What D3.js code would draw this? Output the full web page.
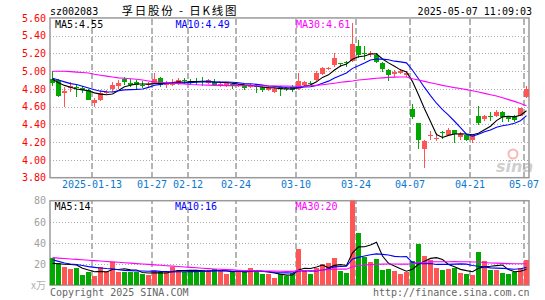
<!DOCTYPE html>
<html><head><meta charset="utf-8">
<script src="https://cdn.jsdelivr.net/npm/d3@7/dist/d3.min.js"></script>
<style>
html,body{margin:0;padding:0;background:#fff;}
svg{display:block;}
</style></head><body>
<svg id="c" width="545" height="300"></svg>
<script>
// ---------- data ----------
const dates = ["2025-01-02","2025-01-03","2025-01-06","2025-01-07","2025-01-08","2025-01-09","2025-01-10","2025-01-13","2025-01-14","2025-01-15","2025-01-16","2025-01-17","2025-01-20","2025-01-21","2025-01-22","2025-01-23","2025-01-24","2025-01-27",
"2025-02-05","2025-02-06","2025-02-07","2025-02-10","2025-02-11","2025-02-12","2025-02-13","2025-02-14","2025-02-17","2025-02-18","2025-02-19","2025-02-20","2025-02-21","2025-02-24","2025-02-25","2025-02-26","2025-02-27","2025-02-28",
"2025-03-03","2025-03-04","2025-03-05","2025-03-06","2025-03-07","2025-03-10","2025-03-11","2025-03-12","2025-03-13","2025-03-14","2025-03-17","2025-03-18","2025-03-19","2025-03-20","2025-03-21","2025-03-24","2025-03-25","2025-03-26","2025-03-27","2025-03-28","2025-03-31",
"2025-04-01","2025-04-02","2025-04-03","2025-04-07","2025-04-08","2025-04-09","2025-04-10","2025-04-11","2025-04-14","2025-04-15","2025-04-16","2025-04-17","2025-04-18","2025-04-21","2025-04-22","2025-04-23","2025-04-24","2025-04-25","2025-04-28","2025-04-29","2025-04-30",
"2025-05-06","2025-05-07"];

const open  = [4.91,4.90,4.76,4.81,4.82,4.81,4.79,4.64,4.68,4.75, 4.80,4.83,4.91,4.87,4.88,4.85,4.84,4.87,4.92,4.84, 4.85,4.86,4.90,4.89,4.89,4.89,4.87,4.88,4.84,4.84, 4.86,4.84,4.84,4.82,4.83,4.82,4.79,4.77,4.82,4.81, 4.82,4.80,4.84,4.87,4.90,4.965,5.03,5.07,5.09,5.10, 5.11,5.28,5.20,5.19,5.18,5.09,5.01,4.965,4.98,4.96, 4.57,4.42,4.12,4.27,4.24,4.315,4.28,4.34,4.26,4.28, 4.23,4.495,4.46,4.495,4.495,4.545,4.495,4.49,4.495,4.71];
const high  = [5.00,4.91,4.82,4.88,4.84,4.83,4.80,4.70,4.79,4.79, 4.88,4.90,4.93,4.91,4.90,4.89,4.88,4.98,4.93,4.89, 4.91,4.92,4.92,4.91,4.92,4.93,4.91,4.91,4.87,4.88, 4.87,4.86,4.85,4.86,4.85,4.84,4.83,4.81,4.83,4.82, 4.84,4.98,4.89,4.89,5.00,5.05,5.05,5.20,5.09,5.11, 5.54,5.35,5.28,5.23,5.20,5.10,5.02,5.01,5.03,5.00, 4.63,4.42,4.23,4.33,4.30,4.33,4.36,4.34,4.31,4.29, 4.28,4.61,4.51,4.54,4.56,4.55,4.50,4.51,4.59,4.83];
const low   = [4.83,4.71,4.60,4.77,4.71,4.76,4.67,4.60,4.66,4.74, 4.77,4.80,4.84,4.82,4.80,4.81,4.82,4.86,4.82,4.81, 4.83,4.84,4.86,4.85,4.84,4.83,4.86,4.83,4.82,4.82, 4.80,4.82,4.79,4.81,4.76,4.77,4.78,4.75,4.72,4.78, 4.77,4.79,4.83,4.84,4.89,4.96,5.01,5.05,5.05,5.05, 5.10,5.145,5.13,5.16,5.09,4.99,4.89,4.94,4.97,4.93, 4.46,4.12,3.91,4.225,4.21,4.24,4.27,4.19,4.23,4.21, 4.19,4.39,4.44,4.44,4.48,4.43,4.43,4.43,4.49,4.695];
const close = [4.87,4.72,4.78,4.83,4.81,4.79,4.68,4.67,4.76,4.77, 4.84,4.87,4.88,4.85,4.84,4.84,4.86,4.91,4.85,4.87, 4.87,4.90,4.89,4.88,4.88,4.88,4.90,4.85,4.86,4.87, 4.84,4.85,4.81,4.84,4.82,4.79,4.81,4.80,4.80,4.80, 4.79,4.89,4.88,4.86,4.98,5.04,5.035,5.15,5.085,5.09, 5.31,5.18,5.19,5.20,5.10,5.02,4.96,4.995,5.00,4.98, 4.48,4.22,4.21,4.28,4.245,4.31,4.34,4.29,4.29,4.23, 4.27,4.42,4.49,4.49,4.545,4.48,4.46,4.45,4.58,4.80];

const ma5  = [4.91,4.87,4.84,4.82,4.80,4.79,4.78,4.756,4.742,4.734, 4.744,4.782,4.824,4.842,4.856,4.856,4.854,4.86,4.86,4.866, 4.872,4.88,4.876,4.882,4.884,4.886,4.886,4.878,4.874,4.872, 4.864,4.854,4.846,4.842,4.832,4.822,4.814,4.812,4.804,4.80, 4.80,4.816,4.832,4.844,4.88,4.93,4.959,5.013,5.058,5.08, 5.134,5.163,5.171,5.194,5.196,5.138,5.094,5.055,5.015,4.991, 4.883,4.735,4.578,4.434,4.287,4.253,4.277,4.293,4.295,4.292, 4.284,4.30,4.34,4.38,4.443,4.485,4.493,4.485,4.503,4.554];
const ma10 = [4.92,4.90,4.88,4.86,4.85,4.83,4.81,4.79,4.775, 4.768,4.765,4.78,4.79,4.792,4.795,4.80,4.818,4.842,4.851, 4.861,4.864,4.867,4.868,4.871,4.875,4.879,4.883,4.877,4.878, 4.878,4.875,4.87,4.862,4.858,4.852,4.843,4.834,4.829,4.823, 4.816,4.811,4.815,4.822,4.824,4.84,4.865,4.888,4.923,4.951, 4.98,5.032,5.061,5.092,5.126,5.138,5.136,5.129,5.113,5.105, 5.094,5.011,4.915,4.817,4.725,4.639,4.568,4.506,4.436,4.365, 4.290,4.269,4.289,4.317,4.338,4.368,4.385,4.397,4.413,4.442, 4.499];
const ma30 = [5.00,5.00,5.00,4.995,4.99,4.985,4.98,4.965,4.955,4.945, 4.935,4.925,4.92,4.915,4.91,4.90,4.89,4.88,4.875,4.87, 4.865,4.86,4.855,4.85,4.848,4.845,4.843,4.84,4.84,4.838, 4.838,4.837,4.836,4.836,4.835,4.835,4.834,4.834,4.833,4.832, 4.83,4.83,4.832,4.836,4.84,4.848,4.856,4.865,4.875,4.883, 4.89,4.90,4.907,4.914,4.92,4.925,4.93,4.933,4.935,4.935, 4.915,4.90,4.885,4.87,4.855,4.84,4.828,4.815,4.805,4.792, 4.78,4.765,4.75,4.735,4.72,4.70,4.68,4.66,4.635,4.61];

const volume = [25.4,20.6,17.5,15.3,16.5,9.6,12.7,8.9,17.5,13.1, 22,12.7,12.1,12.1,12.7,10.5,9.6,13.1,12.1,12.1, 17.5,14.3,12.7,13.3,12.7,14.3,13.1,15.3,13.1,10.5, 12.1,14.3,12.1,16.2,13.1,10.5,10.5,7.0,10.8,8.9, 11.2,34.3,14.3,10.5,15.9,20.0,21.3,26.0,13.7,11.8, 82,49.7,26.9,22.2,24.7,14.3,15.3,13.4,10.5,12.7, 23.2,39.0,27.6,23.8,16.5,14.3,15.3,16.5,11.8,10.5, 9.6,31.7,22.8,14.3,14.3,11.8,10.5,12.7,16.5,24];
const vma5  = [20.6,20.2,19.8,19.5, 19.1,15.9,14.3,12.6,13.0,12.4,14.8,14.8,15.5,14.4, 14.3,12.0,11.4,11.6,11.6,11.5,12.9,13.8,13.7,14.0, 14.1,13.5,13.2,13.7,13.7,13.3,12.8,13.1,12.4,13.0, 13.6,13.2,12.5,11.5,10.4,9.5,9.7,14.4,15.9,15.8, 17.2,19.0,16.4,18.7,19.4,18.6,30.6,36.2,36.4,38.1, 40.7,27.6,20.7,18.0,15.6,13.2,15.0,19.8,22.6,25.3, 26.0,24.2,19.5,17.3,14.9,13.7,12.7,16.0,17.3,17.8, 18.5,19.0,14.7,12.7,13.2,15.1];
const vma10 = [24,22.5,21,20,19.5,18.5,17.5,16.8,16.2, 15.7,15.4,14.6,14.0,13.7,13.3,13.4,13.1,13.5,13.0, 12.9,12.5,12.6,12.7,12.8,12.8,13.2,13.5,13.7,13.8, 13.7,13.1,13.1,13.1,13.4,13.4,13.0,12.8,11.9,11.7, 11.6,11.5,13.5,13.7,13.1,13.4,14.3,15.4,17.3,17.6, 17.9,24.8,26.3,27.6,28.8,29.6,29.1,28.5,27.2,26.9, 27.0,21.3,20.2,20.3,20.5,19.6,19.6,19.6,19.9,20.1, 19.9,18.5,17.8,17.3,16.3,16.1,15.9,15.4,15.0,15.5, 16.8];
const vma30 = [26,25.6,25.2,24.8,24.4,24.0,23.6,23.2,22.8,22.4, 22.0,21.6,21.2,20.8,20.4,20.0,19.6,19.2,18.8,18.4, 18.0,17.6,17.2,16.8,16.4,16.0,15.6,15.3,15.0,14.7, 14.4,14.1,13.9,13.7,13.5,13.4,13.3,13.2,13.1,13.0, 13.0,13.8,13.9,13.9,14.0,14.3,14.6,15.0,15.1,15.1, 17.4,18.6,19.1,19.4,19.8,19.9,20.0,20.0,19.9,19.9, 20.3,21.2,21.6,22.0,22.1,22.1,22.2,22.3,22.2,22.1, 21.9,21.9,21.4,21.0,20.8,20.6,20.4,20.3,20.2,20.2];

const priceTicks = [5.60,5.40,5.20,5.00,4.80,4.60,4.40,4.20,4.00,3.80];
const volTicks = [80,60,40,20];
const dateTicks = ["2025-01-13","2025-01-27","2025-02-12","2025-02-24","2025-03-10","2025-03-24","2025-04-07","2025-04-21","2025-05-07"];
const maNames = ["MA5","MA10","MA30"];
const maLegendPrice = [4.55,4.49,4.61];
const maLegendVol = [14,16,20];
const stockCode = "sz002083";
const titleText = "孚日股份 - 日K线图";
const stamp = "2025-05-07 11:09:03";

// ---------- layout ----------
const L = 50, R = 529;
const T1 = 17.95, B1 = 177.7;
const T2 = 200.7, B2 = 285.1;
const mono = "'DejaVu Sans Mono', monospace";
const UP = "#ff5555", DOWN = "#00a800";
const maColors = ["#000000","#0000ff","#ff00ff"];

const svg = d3.select("#c");

const x = d3.scaleBand().domain(dates).range([L, L + 480])
  .paddingInner(1/6).paddingOuter(1/12).align(0);
const bw = x.bandwidth();
const cx = d => x(d) + bw / 2;
const y = d3.scaleLinear().domain([3.8, 5.6]).range([B1, T1]);
const yv = d3.scaleLinear().domain([0, 80]).range([B2, T2]);

const defs = svg.append("defs");
defs.append("clipPath").attr("id","clip1").append("rect").attr("x",L).attr("y",T1).attr("width",R-L).attr("height",B1-T1);
defs.append("clipPath").attr("id","clip2").append("rect").attr("x",L).attr("y",T2).attr("width",R-L).attr("height",B2-T2);

function styleGrid(g, dash) {
  g.select(".domain").remove();
  g.selectAll("line").attr("stroke","#aaaaaa").attr("stroke-width",1).attr("stroke-dasharray",dash).attr("shape-rendering","crispEdges");
  g.selectAll("text").remove();
}

// horizontal dotted grids
svg.append("g").attr("transform",`translate(${L},0)`)
  .call(d3.axisLeft(y).tickValues(priceTicks.slice(1,-1)).tickSize(-(R-L)).tickFormat(""))
  .call(g => styleGrid(g,"1,2"));
svg.append("g").attr("transform",`translate(${L},0)`)
  .call(d3.axisLeft(yv).tickValues(volTicks.slice(1)).tickSize(-(R-L)).tickFormat(""))
  .call(g => styleGrid(g,"1,2"));

// vertical dashed grids
const vOff = -bw/2;
svg.append("g").attr("transform",`translate(${vOff},${B1})`)
  .call(d3.axisBottom(x).tickValues(dateTicks).tickSize(-(B1-T1)).tickFormat(""))
  .call(g => { styleGrid(g,"6,3"); g.selectAll("line").attr("stroke-width",1.5).attr("stroke","#b4b4b4"); });
svg.append("g").attr("transform",`translate(${vOff},${B2})`)
  .call(d3.axisBottom(x).tickValues(dateTicks).tickSize(-(B2-T2)).tickFormat(""))
  .call(g => { styleGrid(g,"6,3"); g.selectAll("line").attr("stroke-width",1.5).attr("stroke","#b4b4b4"); });

// frames
[[T1,B1],[T2,B2]].forEach(([t,b]) => {
  svg.append("rect").attr("x",L).attr("y",t).attr("width",R-L).attr("height",b-t)
    .attr("fill","none").attr("stroke","#9a9a9a").attr("stroke-width",1.5);
});

// watermark
const wm = svg.append("g").attr("opacity",0.55);
wm.append("circle").attr("cx",513).attr("cy",154).attr("r",4.5).attr("fill","none").attr("stroke","#f08080").attr("stroke-width",2);
wm.append("text").attr("x",496).attr("y",172).text("sina")
  .attr("font-family","'DejaVu Sans', sans-serif").attr("font-weight","bold").attr("font-style","italic")
  .attr("font-size",16).attr("fill","#a8a8a8");

// candles
const candles = dates.map((d,i) => ({d, o:open[i], h:high[i], l:low[i], c:close[i], v:volume[i]}));
const cg = svg.append("g").attr("clip-path","url(#clip1)").attr("shape-rendering","crispEdges");
cg.selectAll("line.w").data(candles).join("line")
  .attr("x1",d=>cx(d.d)).attr("x2",d=>cx(d.d))
  .attr("y1",d=>y(d.h)).attr("y2",d=>y(d.l))
  .attr("stroke",d=>d.c>=d.o?UP:DOWN).attr("stroke-width",1);
cg.selectAll("rect.b").data(candles).join("rect")
  .attr("x",d=>x(d.d)).attr("width",bw)
  .attr("y",d=>y(Math.max(d.o,d.c)))
  .attr("height",d=>Math.max(1, Math.abs(y(d.o)-y(d.c))))
  .attr("fill",d=>d.c>=d.o?UP:DOWN);

// price MA lines
const line1 = arr => d3.line().x((v,i)=>cx(dates[i])).y(v=>y(v))(arr);
const mg = svg.append("g").attr("clip-path","url(#clip1)");
[ma5,ma10,ma30].forEach((arr,k)=>{
  mg.append("path").attr("d",line1(arr)).attr("fill","none").attr("stroke",maColors[k]).attr("stroke-width",1.1);
});

// volume bars
const vg = svg.append("g").attr("clip-path","url(#clip2)").attr("shape-rendering","crispEdges");
vg.selectAll("rect").data(candles).join("rect")
  .attr("x",d=>x(d.d)).attr("width",bw)
  .attr("y",d=>yv(d.v)).attr("height",d=>B2-yv(d.v))
  .attr("fill",d=>d.c>=d.o?UP:DOWN);
const line2 = arr => d3.line().x((v,i)=>cx(dates[i])).y(v=>yv(v))(arr);
const vmg = svg.append("g").attr("clip-path","url(#clip2)");
[vma5,vma10,vma30].forEach((arr,k)=>{
  vmg.append("path").attr("d",line2(arr)).attr("fill","none").attr("stroke",maColors[k]).attr("stroke-width",1.1);
});

// price axis labels
svg.append("g").attr("transform",`translate(${L},0)`)
  .call(d3.axisLeft(y).tickValues(priceTicks).tickFormat(d3.format(".2f")).tickSize(0).tickPadding(4))
  .call(g=>{ g.select(".domain").remove();
    g.selectAll("text").attr("fill","#ff0000").attr("font-family",mono).attr("font-size",10); });

// volume axis labels
svg.append("g").attr("transform",`translate(${L},0)`)
  .call(d3.axisLeft(yv).tickValues(volTicks).tickSize(0).tickPadding(4))
  .call(g=>{ g.select(".domain").remove();
    g.selectAll("text").attr("fill","#a0a0a0").attr("font-family",mono).attr("font-size",10); });
svg.append("text").attr("x",46).attr("y",B2+4).attr("text-anchor","end")
  .attr("font-family","'Noto Sans CJK SC', sans-serif").attr("font-size",10).attr("fill","#b0b0b0").text("x万");

// date axis labels
svg.append("g").attr("transform",`translate(${vOff},${B1})`)
  .call(d3.axisBottom(x).tickValues(dateTicks).tickSize(0).tickPadding(3)
    .tickFormat((d,i)=> i===0 ? d : d.slice(5)))
  .call(g=>{ g.select(".domain").remove();
    g.selectAll("text").attr("fill","#0a78d0").attr("font-family",mono).attr("font-size",10); });

// legends
const legX = [55, 175.5, 296];
maNames.forEach((n,k)=>{
  svg.append("text").attr("x",legX[k]).attr("y",28.3).attr("fill",maColors[k])
    .attr("font-family",mono).attr("font-size",10).text(`${n}:${maLegendPrice[k].toFixed(2)}`);
  svg.append("text").attr("x",legX[k]-0.5).attr("y",210).attr("fill",maColors[k])
    .attr("font-family",mono).attr("font-size",10).text(`${n}:${maLegendVol[k]}`);
});

// header
svg.append("text").attr("x",50).attr("y",14.5).attr("font-family",mono).attr("font-size",10).attr("fill","#000").text(stockCode);
svg.append("text").attr("x",121.5).attr("y",15).attr("font-family","'Noto Sans CJK SC', sans-serif")
  .attr("font-size",11.5).attr("fill","#000").attr("textLength",115).attr("lengthAdjust","spacing").text(titleText);
svg.append("text").attr("x",532).attr("y",15).attr("text-anchor","end").attr("font-family",mono).attr("font-size",10).attr("fill","#000").text(stamp);

// footer
svg.append("text").attr("x",50).attr("y",296.3).attr("font-family",mono).attr("font-size",10).attr("fill","#666").text("Copyright 2025 SINA.COM");
svg.append("text").attr("x",529.5).attr("y",296.3).attr("text-anchor","end").attr("font-family",mono).attr("font-size",10).attr("fill","#666").text("http://finance.sina.com.cn");
</script>
</body></html>
